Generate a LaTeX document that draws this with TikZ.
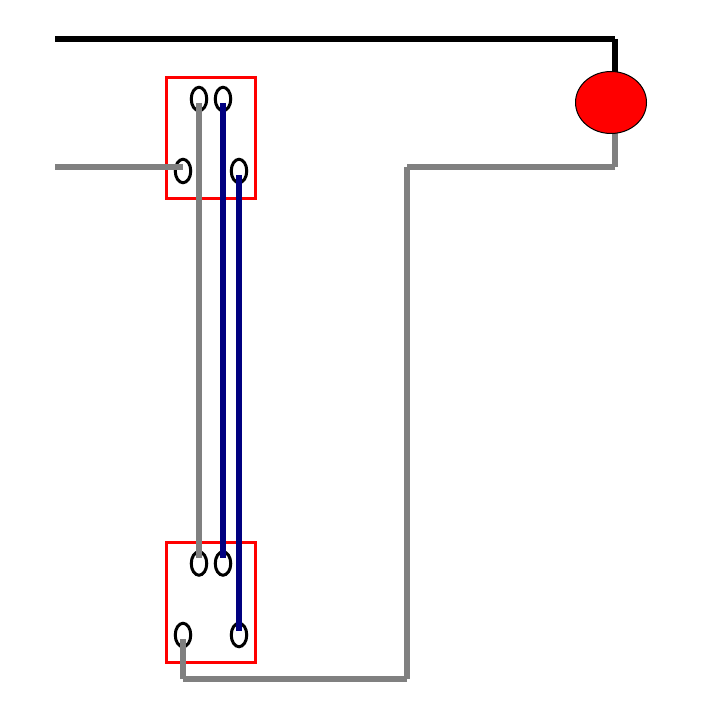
\documentclass[tikz,border=0pt]{standalone}
\usepackage{tikz}
\usetikzlibrary{shapes.geometric}
\definecolor{wirenavy}{RGB}{0,0,128}
\definecolor{wiregray}{RGB}{128,128,128}
\tikzset{
	switchbox/.style={draw=red, line width=3pt, rectangle, minimum width=89pt, minimum height=120.5pt, inner sep=0pt, outer sep=0pt},
	terminal/.style={draw=black, line width=3pt, ellipse, minimum width=15.5pt, minimum height=23.5pt, inner sep=0pt, outer sep=0pt},
	lamp/.style={draw=black, line width=1pt, fill=red, ellipse, minimum width=71pt, minimum height=62pt, inner sep=0pt, outer sep=0pt},
	livewire/.style={draw=black, line width=6pt},
	neutralwire/.style={draw=wiregray, line width=6pt},
	travelwire/.style={draw=wirenavy, line width=6pt}
}
\begin{document}
\begin{tikzpicture}[x=1pt,y=-1pt]
	\useasboundingbox (0,0) rectangle (704,719);
	\node [switchbox] (boxtop) at (210.5,138) {};
	\node [switchbox] (boxbottom) at (210.5,602.5) {};
	\node [terminal] (topa) at (199,99) {};
	\node [terminal] (topb) at (223,99) {};
	\node [terminal] (topc) at (183,171) {};
	\node [terminal] (topd) at (239,171) {};
	\node [terminal] (bota) at (199,563.5) {};
	\node [terminal] (botb) at (223,563.5) {};
	\node [terminal] (botc) at (183,635) {};
	\node [terminal] (botd) at (239,635) {};
	\coordinate (livestart) at (55,39);
	\coordinate (livecorner) at (615,39);
	\coordinate (lampin) at (615,72);
	\coordinate (lampout) at (615,133);
	\coordinate (lampcorner) at (615,167);
	\coordinate (riserup) at (407,167);
	\coordinate (riserdown) at (407,679);
	\coordinate (botcorner) at (183,679);
	\coordinate (neutralstart) at (55,167);
	\coordinate (neutralend) at (183,167);
	\draw [livewire] (livestart) -- (livecorner);
	\draw [livewire] (livecorner) -- (lampin);
	\draw [neutralwire] (lampout) -- (lampcorner);
	\draw [neutralwire] (lampcorner) -- (riserup);
	\draw [neutralwire] (riserup) -- (riserdown);
	\draw [neutralwire] (riserdown) -- (botcorner);
	\draw [neutralwire] (botcorner) -- ([yshift=-4pt]botc.center);
	\draw [neutralwire] (neutralstart) -- (neutralend);
	\draw [neutralwire] ([yshift=-4pt]topa.center) -- ([yshift=5.5pt]bota.center);
	\draw [travelwire] ([yshift=-4pt]topb.center) -- ([yshift=5.5pt]botb.center);
	\draw [travelwire] ([yshift=-4pt]topd.center) -- ([yshift=4pt]botd.center);
	\node [lamp] (bulb) at (611,102.5) {};
\end{tikzpicture}
\end{document}
